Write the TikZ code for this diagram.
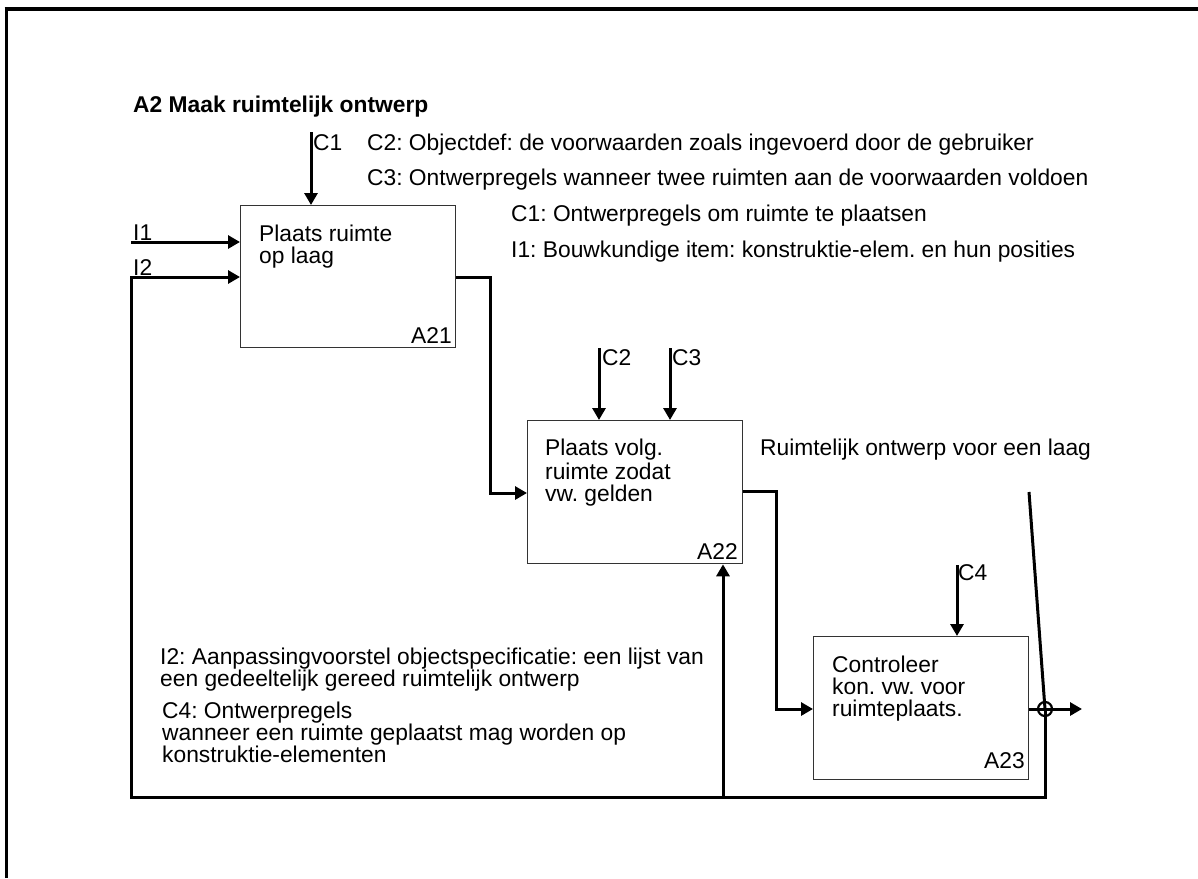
\documentclass[tikz,border=0pt]{standalone}
\usepackage{fontspec}
\setmainfont{Liberation Sans}
\usetikzlibrary{arrows.meta}
\frenchspacing
\begin{document}
\begin{tikzpicture}[x=1pt,y=-1pt,
  box/.style={draw=black!80, line width=1.3pt, rectangle, inner sep=0pt, anchor=north west, minimum width=215pt},
  conn/.style={line width=3pt, -{Triangle[length=12pt,width=13pt]}},
  wire/.style={line width=3pt},
  txt/.style={anchor=base west, inner sep=0pt, font=\fontsize{22.8}{24}\selectfont},
  rtxt/.style={anchor=base east, inner sep=0pt, font=\fontsize{22.8}{24}\selectfont},
]
\useasboundingbox (0,0) rectangle (1198,878);
% frame
\draw[line width=3pt] (6,878) -- (6,9);
\draw[line width=4pt] (4.5,9) -- (1198,9);

% boxes
\node[box, minimum height=142pt] (a21) at (240,205) {};
\node[box, minimum height=143pt] (a22) at (527,420) {};
\node[box, minimum height=143pt] (a23) at (813,636) {};

% title and legend texts
\node[txt, font=\bfseries\fontsize{22.8}{24}\selectfont] (title) at (133,112) {A2 Maak ruimtelijk ontwerp};
\node[txt] (tc2) at (367,150) {C2: Objectdef: de voorwaarden zoals ingevoerd door de gebruiker};
\node[txt] (tc3) at (367,185) {C3: Ontwerpregels wanneer twee ruimten aan de voorwaarden voldoen};
\node[txt] (tc1) at (511,221) {C1: Ontwerpregels om ruimte te plaatsen};
\node[txt] (ti1) at (511,257) {I1: Bouwkundige item: konstruktie-elem. en hun posities};

% box texts
\node[txt] (a21l1) at (259,241) {Plaats ruimte};
\node[txt] (a21l2) at (259,263) {op laag};
\node[rtxt] (a21id) at (452,343) {A21};
\node[txt] (a22l1) at (545,455) {Plaats volg.};
\node[txt] (a22l2) at (545,479) {ruimte zodat};
\node[txt] (a22l3) at (545,501) {vw. gelden};
\node[rtxt] (a22id) at (738,559) {A22};
\node[txt] (a23l1) at (832,672) {Controleer};
\node[txt] (a23l2) at (832,694) {kon. vw. voor};
\node[txt] (a23l3) at (832,716) {ruimteplaats.};
\node[rtxt] (a23id) at (1025,768) {A23};
\node[txt] (out22) at (760,455) {Ruimtelijk ontwerp voor een laag};

% arrow labels
\node[txt] (lc1) at (313,150) {C1};
\node[txt] (lc2) at (602,365) {C2};
\node[txt] (lc3) at (672,365) {C3};
\node[txt] (lc4) at (958,580) {C4};
\node[txt] (li1) at (133,240) {I1};
\node[txt] (li2) at (133,275) {I2};

% bottom notes
\node[txt] (n1) at (160,664) {I2: Aanpassingvoorstel objectspecificatie: een lijst van};
\node[txt] (n2) at (160,686) {een gedeeltelijk gereed ruimtelijk ontwerp};
\node[txt] (n3) at (162,718) {C4: Ontwerpregels};
\node[txt] (n4) at (162,740) {wanneer een ruimte geplaatst mag worden op};
\node[txt] (n5) at (162,762) {konstruktie-elementen};

% coordinates
\coordinate (c1s) at (311,132);
\coordinate (c2s) at (599,348);
\coordinate (c3s) at (670,348);
\coordinate (c4s) at (957,565);
\coordinate (i1s) at (131,242);
\coordinate (i2y) at (0,277);
\coordinate (bl) at (131,797);
\coordinate (j) at (723,797);
\coordinate (k1) at (490,277);
\coordinate (k2) at (490,493);
\coordinate (k3) at (776,491);
\coordinate (k4) at (776,709);
\coordinate (s) at (1029,492);
\coordinate (out) at (1082,709);

\node[circle, draw, line width=2.2pt, minimum size=14pt, inner sep=0pt] (fb) at (1045,709) {};

% controls
\draw[conn] (c1s) -- (c1s |- a21.north);
\draw[conn] (c2s) -- (c2s |- a22.north);
\draw[conn] (c3s) -- (c3s |- a22.north);
\draw[conn] (c4s) -- (c4s |- a23.north);
% inputs
\draw[conn] (i1s) -- (i1s -| a21.west);
\draw[conn] (fb.center) |- (bl) |- (a21.west |- i2y);
\draw[conn] (j) -- (j |- a22.south);
% flows
\draw[conn] (a21.east |- k1) -- (k1) -- (k2) -- (k2 -| a22.west);
\draw[conn] (a22.east |- k3) -- (k3) -- (k4) -- (k4 -| a23.west);
\draw[conn] (a23.east |- fb) -- (out);
\draw[wire] (s) -- (fb.center);
\end{tikzpicture}
\end{document}
